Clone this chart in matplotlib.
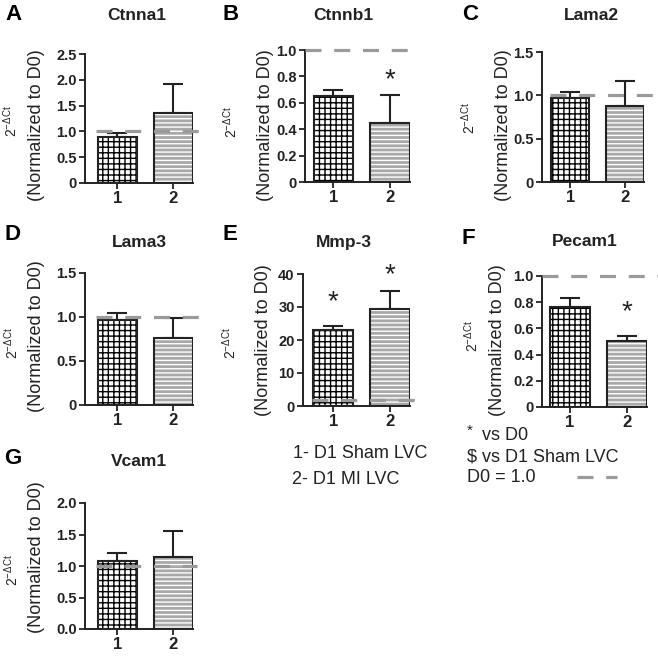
import numpy as np
import matplotlib.pyplot as plt

plt.rcParams['font.family'] = ['Liberation Sans', 'DejaVu Sans']
plt.rcParams['mathtext.fontset'] = 'custom'
plt.rcParams['mathtext.rm'] = 'Liberation Sans'
plt.rcParams['mathtext.it'] = 'Liberation Sans'
plt.rcParams['hatch.linewidth'] = 1.0

# data (mean and top of error bar)
genes = ['Ctnna1', 'Ctnnb1', 'Lama2', 'Lama3', 'Mmp-3', 'Pecam1', 'Vcam1']
letters = ['A', 'B', 'C', 'D', 'E', 'F', 'G']
group_labels = ['1', '2']
means = [[0.90, 1.35], [0.65, 0.45], [0.97, 0.88], [0.97, 0.76],
         [23.0, 29.3], [0.76, 0.505], [1.08, 1.14]]
err_tops = [[0.96, 1.92], [0.70, 0.66], [1.04, 1.16], [1.04, 0.99],
            [24.2, 34.9], [0.83, 0.54], [1.20, 1.55]]
ymax = [2.5, 1.0, 1.5, 1.5, 40, 1.0, 2.0]
yticks = [[0, 0.5, 1.0, 1.5, 2.0, 2.5], [0, 0.2, 0.4, 0.6, 0.8, 1.0],
          [0, 0.5, 1.0, 1.5], [0, 0.5, 1.0, 1.5], [0, 10, 20, 30, 40],
          [0, 0.2, 0.4, 0.6, 0.8, 1.0], [0.0, 0.5, 1.0, 1.5, 2.0]]
ytick_labels = [['0', '0.5', '1.0', '1.5', '2.0', '2.5'],
                ['0', '0.2', '0.4', '0.6', '0.8', '1.0'],
                ['0', '0.5', '1.0', '1.5'], ['0', '0.5', '1.0', '1.5'],
                ['0', '10', '20', '30', '40'],
                ['0', '0.2', '0.4', '0.6', '0.8', '1.0'],
                ['0.0', '0.5', '1.0', '1.5', '2.0']]
ref_level = [1.0, 1.0, 1.0, 1.0, 1.8, 1.0, 1.0]  # D0 line
stars = [[], [(2, 0.77)], [], [], [(1, 31.5), (2, 39.5)], [(2, 0.72)], []]

# layout in pixels: spine x, right x, y of zero, y of top
W, H = 658, 656
boxes = [(85, 193, 183, 54), (305, 410, 182, 50), (542, 644, 182, 52),
         (85, 193, 405, 273), (303, 410, 406, 274), (542, 647, 407, 276),
         (85, 193, 629, 503)]
xlefts = [0.42, 0.50, 0.48, 0.42, 0.47, 0.51, 0.42]
ref_span = [(0.62, 2.52), (0.50, 2.35), (0.62, 2.60), (0.62, 2.52),
            (0.62, 2.50), (0.51, 2.55), (0.62, 2.42)]
title_pos = [(137, 16), (343, 16), (591, 16), (139, 243), (344, 243),
             (585, 241), (139, 461)]
letter_pos = [(13, 15), (231, 15), (470, 15), (13, 234), (230, 234),
              (468, 238), (13, 458)]
ylab_pos = [(11, 37, 121, 125), (231, 266, 122, 125), (469, 504, 118, 125),
            (12, 37, 343, 336), (230, 264, 343, 340), (472, 497, 336, 340),
            (12, 37, 570, 557)]

dark = '#222222'
gray_ref = '#9a9a9a'

fig = plt.figure(figsize=(W / 100, H / 100), dpi=100)

for i in range(len(genes)):
    x0, x1, y0, y1 = boxes[i]
    ax = fig.add_axes([x0 / W, (H - y0) / H, (x1 - x0) / W, (y0 - y1) / H])
    xs = np.array([1, 2])
    m = np.array(means[i])
    up = np.array(err_tops[i]) - m

    ax.errorbar(xs, m, yerr=[np.zeros(2), up], fmt='none', ecolor=dark,
                elinewidth=1.5, capsize=7, capthick=1.5, zorder=2)
    # bar 1: grid pattern
    ax.bar(xs[0], m[0], width=0.7, color='white', edgecolor='black',
           hatch='+++', linewidth=0, zorder=3)
    # bar 2: brick-like gray
    ax.bar(xs[1], m[1], width=0.7, color='#a8a8a8', edgecolor='white',
           hatch='----', linewidth=0, zorder=3)
    ax.bar(xs, m, width=0.7, color='none', edgecolor=dark, linewidth=1.5,
           zorder=4)

    a, b = ref_span[i]
    ax.plot([a, b], [ref_level[i], ref_level[i]], color=gray_ref, lw=2.3,
            linestyle=(0, (5, 4)), clip_on=False, zorder=5)

    for sx, sy in stars[i]:
        ax.text(sx, sy, '*', ha='center', va='center', fontsize=20,
                color=dark, zorder=6)

    ax.set_xlim(xlefts[i], 2.35)
    ax.set_ylim(0, ymax[i])
    ax.set_xticks(xs)
    ax.set_xticklabels(group_labels, fontsize=12, fontweight='bold', color=dark)
    ax.set_yticks(yticks[i])
    ax.set_yticklabels(ytick_labels[i], fontsize=10.5, fontweight='bold',
                       color=dark)
    ax.tick_params(direction='out', length=4, width=1.3, color=dark, pad=2)
    for s in ['top', 'right']:
        ax.spines[s].set_visible(False)
    for s in ['left', 'bottom']:
        ax.spines[s].set_linewidth(1.4)
        ax.spines[s].set_color(dark)

    tx, ty = title_pos[i]
    fig.text(tx / W, 1 - ty / H, genes[i], ha='center', va='center',
             fontsize=12.5, fontweight='bold', color=dark)
    lx, ly = letter_pos[i]
    fig.text(lx / W, 1 - ly / H, letters[i], ha='center', va='center',
             fontsize=16, fontweight='bold', color='black')
    ax1, ax2, yy1, yy2 = ylab_pos[i]
    fig.text(ax1 / W, 1 - yy1 / H, r'$2^{-\Delta\mathrm{Ct}}$', rotation=90,
             ha='center', va='center', fontsize=10, color=dark)
    fig.text(ax2 / W, 1 - yy2 / H, '(Normalized to D0)', rotation=90,
             ha='center', va='center', fontsize=13, color=dark)

# group key
fig.text(293 / W, 1 - 453 / H, '1- D1 Sham LVC', ha='left', va='center',
         fontsize=13, color=dark)
fig.text(292 / W, 1 - 480 / H, '2- D1 MI LVC', ha='left', va='center',
         fontsize=13, color=dark)

# significance key
fig.text(467 / W, 1 - 431 / H, '*', ha='left', va='center', fontsize=11,
         color=dark)
fig.text(482 / W, 1 - 436 / H, 'vs D0', ha='left', va='center', fontsize=13,
         color=dark)
fig.text(467 / W, 1 - 457 / H, '$ vs D1 Sham LVC', ha='left', va='center',
         fontsize=13, color=dark)
fig.text(467 / W, 1 - 478 / H, 'D0 = 1.0', ha='left', va='center',
         fontsize=13, color=dark)
fig.add_artist(plt.Line2D([577 / W, 617 / W], [1 - 477 / H, 1 - 477 / H],
                          color=gray_ref, lw=2.3, linestyle=(0, (5, 4))))

fig.savefig('out.png', dpi=100)
